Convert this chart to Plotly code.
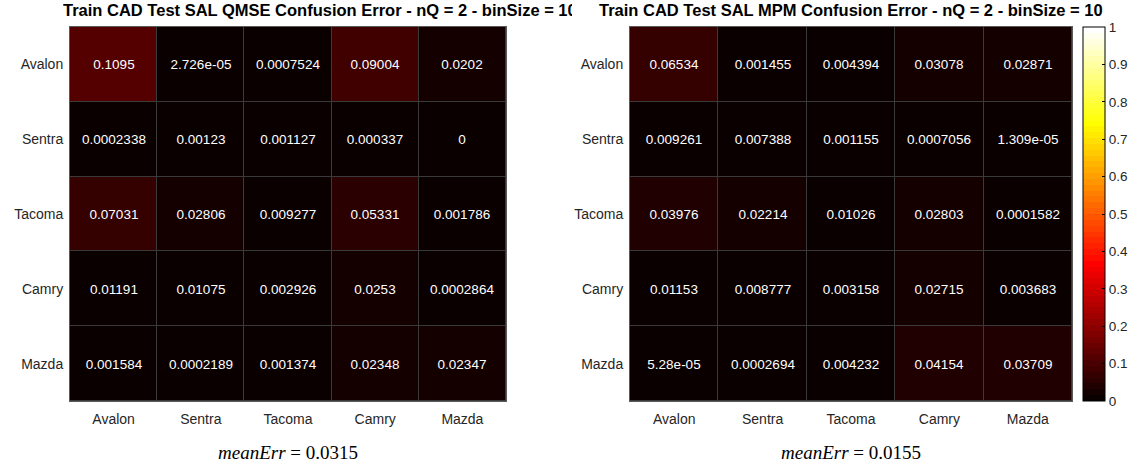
import plotly.graph_objects as go

cars = ["Avalon", "Sentra", "Tacoma", "Camry", "Mazda"]

qmse_err = [
    [0.1095, 2.726e-05, 0.0007524, 0.09004, 0.0202],
    [0.0002338, 0.00123, 0.001127, 0.000337, 0],
    [0.07031, 0.02806, 0.009277, 0.05331, 0.001786],
    [0.01191, 0.01075, 0.002926, 0.0253, 0.0002864],
    [0.001584, 0.0002189, 0.001374, 0.02348, 0.02347],
]
mpm_err = [
    [0.06534, 0.001455, 0.004394, 0.03078, 0.02871],
    [0.009261, 0.007388, 0.001155, 0.0007056, 1.309e-05],
    [0.03976, 0.02214, 0.01026, 0.02803, 0.0001582],
    [0.01153, 0.008777, 0.003158, 0.02715, 0.003683],
    [5.28e-05, 0.0002694, 0.004232, 0.04154, 0.03709],
]
titles = [
    "Train CAD Test SAL QMSE Confusion Error - nQ = 2 - binSize = 10",
    "Train CAD Test SAL MPM Confusion Error - nQ = 2 - binSize = 10",
]
mean_errs = ["0.0315", "0.0155"]
cbar_ticks = [0, 0.1, 0.2, 0.3, 0.4, 0.5, 0.6, 0.7, 0.8, 0.9, 1]

# MATLAB hot(64) colormap as stepped colorscale
m = 64
n1 = int(3 / 8 * m)
scale = []
for i in range(m):
    k = i + 1
    r = min(k / n1, 1.0)
    g = 0.0 if k <= n1 else min((k - n1) / n1, 1.0)
    b = 0.0 if k <= 2 * n1 else (k - 2 * n1) / (m - 2 * n1)
    c = f"rgb({round(r*255)},{round(g*255)},{round(b*255)})"
    scale.append([i / m, c])
    scale.append([(i + 1) / m, c])

W, H = 1139, 474
top_px, bot_px = 27, 401
doms = [(70, 506), (630, 1072)]
ydom = [1 - bot_px / H, 1 - top_px / H]
FONT = "Liberation Sans, Arial, Helvetica"
axis_col = "#262626"

fig = go.Figure()
for idx, (z, dom) in enumerate(zip([qmse_err, mpm_err], doms)):
    txt = [["%.4g" % v for v in row] for row in z]
    xa = "x" if idx == 0 else "x2"
    ya = "y" if idx == 0 else "y2"
    fig.add_trace(go.Heatmap(
        z=z, x=cars, y=cars, text=txt, texttemplate="%{text}",
        textfont=dict(color="white", size=13.5, family=FONT),
        colorscale=scale, zmin=0, zmax=1, xgap=1, ygap=1,
        showscale=(idx == 1), xaxis=xa, yaxis=ya, hoverinfo="skip",
        colorbar=dict(
            x=1083 / W, xanchor="left", y=ydom[1], yanchor="top",
            len=bot_px - top_px, lenmode="pixels", thickness=22, thicknessmode="pixels",
            outlinecolor="black", outlinewidth=1, ticks="inside", ticklen=3,
            tickcolor="black", tickvals=cbar_ticks,
            ticktext=["%g" % t for t in cbar_ticks],
            tickfont=dict(size=13.5, color=axis_col, family=FONT),
            xpad=0, ypad=0,
        ),
    ))
    sfx = "" if idx == 0 else "2"
    fig.layout["xaxis" + sfx] = dict(
        domain=[dom[0] / W, dom[1] / W], anchor=ya, showgrid=False, zeroline=False,
        showline=True, mirror=True, linecolor="#5a5a5a", linewidth=1,
        ticks="", ticklabelstandoff=5,
        tickfont=dict(size=14, color=axis_col, family=FONT), fixedrange=True,
    )
    fig.layout["yaxis" + sfx] = dict(
        domain=ydom, anchor=xa, autorange="reversed", showgrid=False, zeroline=False,
        showline=True, mirror=True, linecolor="#5a5a5a", linewidth=1,
        ticks="", ticklabelstandoff=3,
        tickfont=dict(size=14, color=axis_col, family=FONT), fixedrange=True,
    )
    cx = (dom[0] + dom[1]) / 2 / W
    fig.add_annotation(
        x=cx, y=1 - 452 / H, xref="paper", yref="paper",
        text="<i>meanErr</i> = %s" % mean_errs[idx],
        showarrow=False, font=dict(size=19, color="black", family="Liberation Serif, serif"),
        xanchor="center", yanchor="middle",
    )

# titles: left one is clipped at the middle of the figure, right one centred
fig.add_annotation(
    x=61 / W, y=1 - 10 / H, xref="paper", yref="paper", text="<b>%s</b>" % titles[0],
    showarrow=False, font=dict(size=16.5, color="black", family=FONT),
    xanchor="left", yanchor="middle", width=509, align="left",
)
fig.add_annotation(
    x=(doms[1][0] + doms[1][1]) / 2 / W, y=1 - 10 / H, xref="paper", yref="paper",
    text="<b>%s</b>" % titles[1],
    showarrow=False, font=dict(size=16.5, color="black", family=FONT),
    xanchor="center", yanchor="middle",
)

fig.update_layout(
    width=W, height=H, margin=dict(l=0, r=0, t=0, b=0),
    paper_bgcolor="white", plot_bgcolor="#3a3a3a", showlegend=False,
)
fig.write_html("out.html", config={"displayModeBar": False, "staticPlot": True},
               post_script="document.body.style.margin='0';")
